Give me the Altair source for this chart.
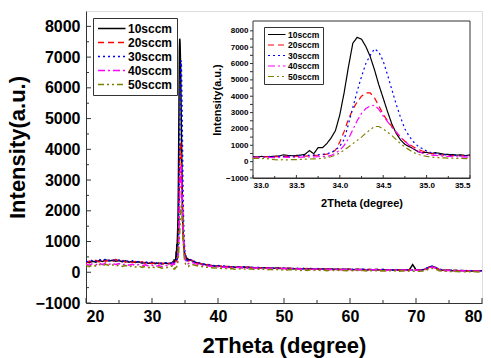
import altair as alt
import pandas as pd

FONT = "Liberation Sans"
FRAME = "#333333"

series = ["10sccm", "20sccm", "30sccm", "40sccm", "50sccm"]
colors = ["#000000", "#FF0000", "#0000FF", "#FF00FF", "#808000"]
dashes = [[1, 0], [6, 4], [2, 3], [7, 3, 2, 3], [6, 3, 2, 3, 2, 3]]

# sampling grids (2Theta, degree)
x_left = [round(20.0 + 0.5 * i, 2) for i in range(26)]      # 20.0 .. 32.5
x_peak = [round(33.0 + 0.05 * i, 2) for i in range(51)]     # 33.00 .. 35.50
x_right = [round(36.0 + 0.5 * i, 2) for i in range(89)]     # 36.0 .. 80.0

# background 20-32.5
left_vals = {
    "10sccm": [340, 310, 360, 330, 380, 350, 400, 370, 390, 360,
               380, 340, 370, 330, 350, 320, 340, 300, 320, 290,
               310, 280, 300, 270, 300, 280],
    "20sccm": [300, 360, 320, 390, 340, 410, 360, 400, 350, 420,
               360, 380, 330, 370, 320, 350, 300, 340, 290, 330,
               280, 320, 270, 300, 260, 290],
    "30sccm": [360, 330, 400, 350, 420, 370, 430, 380, 410, 370,
               400, 350, 390, 340, 370, 330, 350, 310, 340, 300,
               330, 290, 320, 280, 310, 290],
    "40sccm": [260, 230, 280, 240, 300, 250, 310, 260, 290, 250,
               280, 240, 270, 230, 260, 220, 250, 210, 240, 200,
               230, 190, 220, 180, 230, 200],
    "50sccm": [220, 180, 240, 200, 250, 210, 260, 220, 240, 200,
               230, 190, 220, 180, 210, 170, 200, 160, 190, 150,
               180, 140, 170, 130, 160, 150],
}

# peak region 33.0-35.5 (also drawn in the inset)
peak_vals = {
    "10sccm": [300, 290, 320, 300, 310, 330, 340, 420, 380, 360,
               380, 400, 450, 680, 480, 860, 850, 1100, 1450, 1900,
               2860, 4220, 5810, 7240, 7600, 7490, 7040, 6430, 5610, 4690,
               3880, 3060, 2300, 1730, 1330, 1060, 920, 780, 610, 550,
               570, 490, 550, 510, 450, 440, 430, 400, 420, 360,
               420],
    "20sccm": [280, 300, 290, 310, 300, 320, 310, 330, 320, 340,
               330, 350, 340, 360, 380, 390, 420, 460, 530, 700,
               1200, 1850, 2600, 3200, 3650, 4000, 4200, 4200, 3900, 3400,
               2900, 2500, 2150, 1800, 1500, 1250, 1050, 900, 760, 650,
               580, 500, 450, 420, 400, 390, 370, 380, 360, 350,
               370],
    "30sccm": [300, 280, 300, 290, 320, 310, 330, 320, 340, 330,
               350, 360, 370, 390, 400, 420, 440, 480, 560, 700,
               950, 1350, 2300, 3300, 4300, 5200, 6000, 6500, 6900, 6700,
               6150, 5300, 4400, 3500, 2700, 2000, 1550, 1200, 950, 800,
               650, 560, 500, 450, 430, 400, 380, 390, 350, 360,
               370],
    "40sccm": [250, 260, 240, 270, 260, 250, 260, 270, 260, 270,
               260, 280, 270, 290, 290, 300, 310, 330, 380, 520,
               700, 1000, 1400, 1950, 2500, 2950, 3250, 3400, 3450, 3200,
               2800, 2450, 2100, 1800, 1500, 1250, 1000, 800, 650, 520,
               450, 400, 380, 360, 330, 320, 300, 300, 290, 280,
               280],
    "50sccm": [200, 210, 190, 200, 150, 120, 110, 120, 110, 130,
               120, 140, 150, 160, 170, 180, 200, 240, 300, 400,
               530, 700, 900, 1100, 1300, 1500, 1750, 1950, 2150, 2150,
               2000, 1800, 1600, 1350, 1100, 900, 720, 560, 450, 380,
               320, 290, 260, 240, 230, 220, 210, 200, 200, 190,
               190],
}

# background 36-80
right_vals = {
    "10sccm": [380, 330, 300, 270, 250, 230, 220, 200, 210, 180,
               190, 170, 180, 160, 170, 150, 170, 150, 160, 140,
               150, 140, 150, 130, 140, 130, 140, 120, 130, 120,
               130, 110, 120, 110, 120, 100, 120, 100, 110, 100,
               110, 90, 110, 100, 100, 90, 100, 90, 100, 80,
               100, 90, 90, 80, 90, 80, 90, 80, 90, 70,
               80, 70, 80, 70, 80, 70, 80, 250, 80, 70,
               80, 110, 170, 190, 150, 90, 70, 60, 70, 50,
               60, 50, 60, 40, 50, 40, 50, 40, 50],
    "20sccm": [400, 320, 290, 280, 240, 250, 210, 220, 190, 200,
               180, 190, 170, 180, 160, 180, 150, 170, 150, 160,
               140, 150, 130, 150, 130, 140, 120, 140, 120, 130,
               120, 130, 110, 120, 110, 120, 100, 110, 100, 110,
               100, 110, 90, 100, 90, 100, 90, 100, 90, 100,
               80, 90, 90, 80, 90, 80, 90, 80, 80, 70,
               80, 70, 80, 70, 80, 70, 80, 70, 80, 70,
               80, 100, 160, 180, 140, 90, 70, 60, 70, 60,
               60, 50, 60, 50, 50, 40, 50, 40, 50],
    "30sccm": [420, 340, 310, 290, 260, 240, 230, 210, 220, 190,
               200, 180, 190, 170, 180, 160, 180, 160, 170, 150,
               160, 140, 150, 140, 150, 130, 140, 130, 140, 120,
               130, 120, 130, 110, 120, 110, 120, 100, 120, 100,
               110, 100, 110, 90, 100, 90, 100, 90, 100, 90,
               90, 90, 100, 80, 90, 80, 90, 80, 90, 80,
               80, 70, 90, 70, 80, 70, 80, 70, 80, 70,
               80, 120, 180, 200, 160, 100, 80, 60, 70, 60,
               60, 50, 60, 50, 60, 40, 50, 40, 50],
    "40sccm": [330, 280, 250, 240, 210, 200, 190, 180, 180, 160,
               170, 150, 160, 140, 160, 140, 150, 130, 140, 130,
               140, 120, 130, 120, 130, 110, 120, 110, 120, 100,
               120, 100, 110, 100, 110, 90, 100, 90, 110, 90,
               100, 80, 100, 90, 90, 80, 90, 80, 90, 70,
               90, 80, 80, 70, 80, 70, 80, 70, 80, 60,
               70, 60, 70, 60, 70, 60, 70, 60, 70, 60,
               70, 100, 150, 170, 130, 80, 60, 50, 60, 50,
               50, 40, 50, 40, 50, 40, 40, 30, 40],
    "50sccm": [260, 230, 200, 190, 170, 160, 150, 140, 140, 120,
               130, 110, 120, 100, 120, 100, 110, 90, 110, 90,
               100, 90, 100, 80, 100, 80, 90, 70, 90, 70,
               90, 70, 80, 60, 80, 60, 80, 60, 80, 60,
               70, 50, 70, 60, 70, 50, 60, 50, 60, 50,
               60, 50, 60, 40, 60, 40, 50, 40, 50, 40,
               50, 40, 50, 30, 50, 30, 40, 30, 40, 30,
               40, 60, 110, 130, 100, 50, 40, 30, 30, 20,
               30, 20, 30, 10, 20, 10, 20, 10, 20],
}

main_x_labels = [20, 30, 40, 50, 60, 70, 80]
main_x_minor = [25, 35, 45, 55, 65, 75]
main_y_labels = [-1000, 0, 1000, 2000, 3000, 4000, 5000, 6000, 7000, 8000]
main_y_minor = [-500, 500, 1500, 2500, 3500, 4500, 5500, 6500, 7500]
inset_x_labels = [33.0, 33.5, 34.0, 34.5, 35.0, 35.5]
inset_x_minor = [33.25, 33.75, 34.25, 34.75, 35.25]
inset_y_ticks = [-1000, -500, 0, 500, 1000, 1500, 2000, 2500, 3000, 3500,
                 4000, 4500, 5000, 5500, 6000, 6500, 7000, 7500, 8000]

# ---------- tables ----------
rows = []
for s in series:
    xs = x_left + x_peak + x_right
    ys = left_vals[s] + peak_vals[s] + right_vals[s]
    for xv, yv in zip(xs, ys):
        rows.append({"x": xv, "I": yv, "series": s})
main_df = pd.DataFrame(rows)

irows = []
for s in series:
    for xv, yv in zip(x_peak, peak_vals[s]):
        irows.append({"x": xv, "I": yv, "series": s})
inset_df = pd.DataFrame(irows)

W, H = 396, 292
IX0, IX1 = 167, 384      # inset plot range in px (plot coords)
IY0, IY1 = 167, 10

main_xs = alt.Scale(domain=[20, 80], nice=False, zero=False)
main_ys = alt.Scale(domain=[-1000, 8500], nice=False, zero=False)
ins_xs = alt.Scale(domain=[33.0, 35.5], nice=False, zero=False, range=[IX0, IX1])
ins_ys = alt.Scale(domain=[-1000, 8600], nice=False, zero=False, range=[IY0, IY1])

main_x_axis = alt.Axis(
    values=main_x_labels, format="d", ticks=False, grid=False,
    labelFont=FONT, labelFontSize=16, labelFontWeight="bold", labelColor="#000",
    labelPadding=5, domainColor=FRAME,
    title="2Theta (degree)", titleFont=FONT, titleFontSize=22,
    titleFontWeight="bold", titleColor="#000", titlePadding=11)
main_y_axis = alt.Axis(
    values=main_y_labels, format="d", ticks=False, grid=False,
    labelFont=FONT, labelFontSize=16, labelFontWeight="bold", labelColor="#000",
    labelPadding=6, domainColor=FRAME,
    title="Intensity(a.u.)", titleFont=FONT, titleFontSize=22,
    titleFontWeight="bold", titleColor="#000", titlePadding=6, titleY=136)
ins_x_axis = alt.Axis(
    orient="bottom", offset=-(H - IY0), values=inset_x_labels, format=".1f",
    ticks=False, grid=False, labelFont=FONT, labelFontSize=8, labelFontWeight="bold",
    labelColor="#000", labelPadding=3, domainColor=FRAME,
    title="2Theta (degree)", titleFont=FONT, titleFontSize=11, titleFontWeight="bold",
    titleColor="#000", titlePadding=8)
ins_y_axis = alt.Axis(
    orient="left", offset=-IX0, values=main_y_labels, format="d",
    ticks=False, grid=False, labelFont=FONT, labelFontSize=8, labelFontWeight="bold",
    labelColor="#000", labelPadding=5, domainColor=FRAME,
    title="Intensity(a.u.)", titleFont=FONT, titleFontSize=11, titleFontWeight="bold",
    titleColor="#000", titlePadding=3)

main_legend = alt.Legend(
    title=None, orient="none", legendX=7, legendY=7,
    symbolType="M-1,0H4", symbolSize=121, symbolStrokeWidth=1.6,
    labelFont=FONT, labelFontSize=12, labelFontWeight="bold", labelColor="#000",
    labelOffset=18, rowPadding=1, padding=4,
    strokeColor=FRAME, fillColor="white",
)
inset_legend = alt.Legend(
    title=None, orient="none", legendX=178, legendY=16,
    symbolType="M-1,0H4", symbolSize=49, symbolStrokeWidth=1.2,
    labelFont=FONT, labelFontSize=8.5, labelFontWeight="bold", labelColor="#000",
    labelOffset=12, rowPadding=1.5, padding=3,
    strokeColor=FRAME, fillColor="white",
)

main_lines = alt.Chart(main_df).mark_line(strokeWidth=1.5, clip=True).encode(
    x=alt.X("x:Q", scale=main_xs, axis=main_x_axis),
    y=alt.Y("I:Q", scale=main_ys, axis=main_y_axis),
    color=alt.Color("series:N", scale=alt.Scale(domain=series, range=colors), legend=main_legend),
    strokeDash=alt.StrokeDash("series:N", scale=alt.Scale(domain=series, range=dashes), legend=main_legend),
)

def xticks(vals, scale, axis, y0, y1):
    return alt.Chart(pd.DataFrame({"v": vals})).mark_rule(color=FRAME, strokeWidth=1).encode(
        x=alt.X("v:Q", scale=scale, axis=axis), y=alt.value(y0), y2=alt.value(y1))

def yticks(vals, scale, axis, x0, x1):
    return alt.Chart(pd.DataFrame({"v": vals})).mark_rule(color=FRAME, strokeWidth=1).encode(
        y=alt.Y("v:Q", scale=scale, axis=axis), x=alt.value(x0), x2=alt.value(x1))

main_layer = alt.layer(
    main_lines,
    xticks(main_x_labels, main_xs, main_x_axis, H, H - 5),
    xticks(main_x_minor, main_xs, main_x_axis, H, H - 3),
    yticks(main_y_labels, main_ys, main_y_axis, 0, 5),
    yticks(main_y_minor, main_ys, main_y_axis, 0, 3),
)

frame_df = pd.DataFrame({"x0": [33.0], "x1": [35.5], "y0": [-1000], "y1": [8600]})
inset_frame = alt.Chart(frame_df).mark_rect(fill="white", stroke=FRAME, strokeWidth=1).encode(
    x=alt.X("x0:Q", scale=ins_xs, axis=ins_x_axis),
    x2="x1:Q",
    y=alt.Y("y0:Q", scale=ins_ys, axis=ins_y_axis),
    y2="y1:Q",
)

inset_lines = alt.Chart(inset_df).mark_line(strokeWidth=1.2).encode(
    x=alt.X("x:Q", scale=ins_xs, axis=ins_x_axis),
    y=alt.Y("I:Q", scale=ins_ys, axis=ins_y_axis),
    color=alt.Color("series:N", scale=alt.Scale(domain=series, range=colors), legend=inset_legend),
    strokeDash=alt.StrokeDash("series:N", scale=alt.Scale(domain=series, range=dashes), legend=inset_legend),
)

inset_layer = alt.layer(
    inset_frame,
    inset_lines,
    xticks(inset_x_labels, ins_xs, ins_x_axis, IY0, IY0 - 3),
    xticks(inset_x_minor, ins_xs, ins_x_axis, IY0, IY0 - 2),
    yticks(inset_y_ticks, ins_ys, ins_y_axis, IX0 - 3, IX0),
)

chart = alt.layer(main_layer, inset_layer).resolve_scale(
    x="independent", y="independent", color="independent", strokeDash="independent"
).resolve_axis(x="independent", y="independent").resolve_legend(
    color="independent", strokeDash="independent"
).properties(
    width=W, height=H,
    padding={"left": 86, "top": 11, "right": 9, "bottom": 55},
    autosize=alt.AutoSizeParams(type="none"),
).configure_view(stroke=FRAME, strokeWidth=1.2).configure(background="white")

chart.save("out.html", embed_options={"renderer": "svg", "actions": False})
